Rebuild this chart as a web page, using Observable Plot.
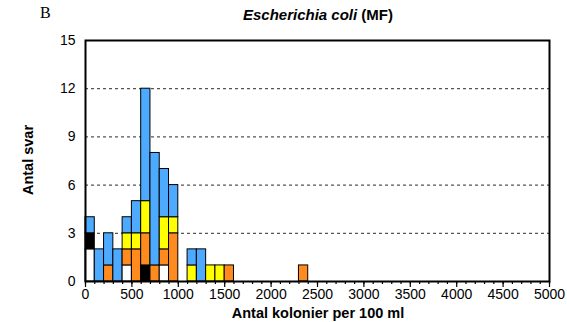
<!DOCTYPE html>
<html><head><meta charset="utf-8">
<script src="https://cdn.jsdelivr.net/npm/d3@7"></script>
<script src="https://cdn.jsdelivr.net/npm/@observablehq/plot@0.6"></script>
<style>
body{margin:0;background:#fff;font-family:"Liberation Sans",Arial,sans-serif;}
#wrap{position:relative;width:567px;height:322px;}
.lab{position:absolute;font-weight:bold;font-size:13px;color:#000;white-space:nowrap;line-height:1;}
</style></head>
<body><div id="wrap"></div>
<script>
// bin lower edges (width 100)
const binStarts = [0,100,200,300,400,500,600,700,800,900,1100,1200,1300,1400,1500,2300];
// counts per category, stacked bottom to top in this order
const categories = ["grpWhite","grpBlack","grpOrange","grpYellow","grpBlue"];
const whiteCounts  = [2,0,0,0,1,0,0,0,1,0,0,0,0,0,0,0];
const blackCounts  = [1,0,0,0,0,0,1,0,0,0,0,0,0,0,0,0];
const orangeCounts = [0,0,1,0,1,2,2,1,1,3,0,0,0,0,1,1];
const yellowCounts = [0,0,0,0,1,1,2,0,2,1,1,0,1,1,0,0];
const blueCounts   = [1,2,2,2,1,2,7,7,3,2,1,2,0,0,0,0];
const colors = ["#ffffff","#000000","#ff8a1e","#ffff00","#4daaff"];
const yTicks = [0,3,6,9,12,15];
const gridLines = [3,6,9,12];
const xMajor = d3.range(0,5001,500);
const xMinor = d3.range(0,5001,100);

const series = [whiteCounts,blackCounts,orangeCounts,yellowCounts,blueCounts];
const data = [];
binStarts.forEach((b,i)=>{
  categories.forEach((c,j)=>{
    const v = series[j][i];
    if (v>0) data.push({x1:b, x2:b+100, y:v, cat:c});
  });
});

const chart = Plot.plot({
  width:567, height:322,
  marginLeft:85, marginRight:18, marginTop:40, marginBottom:41,
  style:{fontFamily:"'Liberation Sans',Arial,sans-serif", fontSize:"14px", color:"#000", background:"#fff"},
  x:{domain:[0,5000]},
  y:{domain:[0,15]},
  color:{type:"ordinal", domain:categories, range:colors},
  marks:[
    Plot.ruleY(gridLines,{stroke:"#555",strokeDasharray:"3,3",strokeWidth:1.2}),
    Plot.rectY(data,{x1:"x1",x2:"x2",y:"y",fill:"cat",stroke:"#000",strokeWidth:1,insetLeft:0,insetRight:0}),
    Plot.axisX({ticks:xMinor,tickSize:3,tickFormat:()=>"",label:null,strokeWidth:1.2}),
    Plot.axisX({ticks:xMajor,tickSize:6,tickPadding:2,tickFormat:d=>String(d),label:null,strokeWidth:1.2}),
    Plot.axisY({ticks:yTicks,tickSize:0,tickPadding:10,label:null}),
    Plot.frame({stroke:"#000",strokeWidth:2})
  ]
});
const wrap = document.getElementById("wrap");
wrap.appendChild(chart);

function addLabel(html, style){
  const d = document.createElement("div");
  d.className="lab"; d.innerHTML=html;
  Object.assign(d.style, style);
  wrap.appendChild(d);
  return d;
}
addLabel("<i>Escherichia coli</i> (MF)", {left:"318px", top:"14px", transform:"translate(-50%,-50%)", fontSize:"15px"});
addLabel("B", {left:"40px", top:"5px", fontFamily:"'Liberation Serif',serif", fontWeight:"normal", fontSize:"16px"});
addLabel("Antal kolonier per 100 ml", {left:"318px", top:"312.5px", transform:"translate(-50%,-50%)", fontSize:"14.5px"});
addLabel("Antal svar", {left:"28px", top:"160px", transform:"translate(-50%,-50%) rotate(-90deg)", fontSize:"14.5px"});
</script></body></html>
